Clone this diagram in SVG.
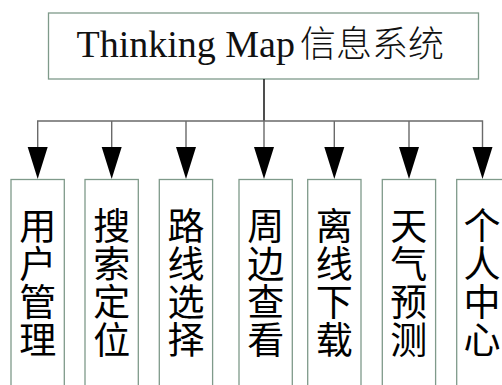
<svg xmlns="http://www.w3.org/2000/svg" width="502" height="385" viewBox="0 0 502 385">
<style>
.box{fill:#fff;stroke:#7f9a8a;stroke-width:1.3}
.ln{fill:none;stroke:#6a6a6a;stroke-width:1.4}
.main{stroke:#222;stroke-width:1.6}
.head{fill:#000}
.v{font-family:"Noto Sans CJK SC","Noto Sans CJK JP",sans-serif;font-size:37px;fill:#000;text-anchor:middle}
.t{font-family:"Liberation Serif",serif;font-size:38px;fill:#111}
.tc{font-family:"Noto Sans CJK SC","Noto Sans CJK JP",sans-serif;font-size:36px;font-weight:300;fill:#111}
</style>
<defs>
<path id="ah" class="head" d="M-10,0 L10,0 L0,32 Z"/>
</defs>
<rect width="502" height="385" fill="#fff"/>
<g id="root">
<rect class="box" x="48.5" y="13" width="430" height="66"/>
<text class="t" x="76.5" y="57">Thinking Map</text>
<text class="tc" x="300" y="57">信息系统</text>
</g>
<g id="connectors">
<path class="ln main" d="M264,79 V121"/>
<path class="ln" d="M37.7,148 V121 H482.5 V148 M111.7,121 V148 M186,121 V148 M264,121 V148 M334.3,121 V148 M409,121 V148"/>
<use href="#ah" x="37.7" y="147"/>
<use href="#ah" x="111.7" y="147"/>
<use href="#ah" x="186" y="147"/>
<use href="#ah" x="264" y="147"/>
<use href="#ah" x="334.3" y="147"/>
<use href="#ah" x="409" y="147"/>
<use href="#ah" x="482.5" y="147"/>
</g>
<g id="n1"><rect class="box" x="11" y="179.5" width="53.3" height="215"/>
<text class="v" x="37.7" y="240">用</text><text class="v" x="37.7" y="278">户</text><text class="v" x="37.7" y="316">管</text><text class="v" x="37.7" y="354">理</text></g>
<g id="n2"><rect class="box" x="85" y="179.5" width="53.3" height="215"/>
<text class="v" x="111.7" y="240">搜</text><text class="v" x="111.7" y="278">索</text><text class="v" x="111.7" y="316">定</text><text class="v" x="111.7" y="354">位</text></g>
<g id="n3"><rect class="box" x="159.3" y="179.5" width="53.3" height="215"/>
<text class="v" x="186" y="240">路</text><text class="v" x="186" y="278">线</text><text class="v" x="186" y="316">选</text><text class="v" x="186" y="354">择</text></g>
<g id="n4"><rect class="box" x="239" y="179.5" width="53.3" height="215"/>
<text class="v" x="265.7" y="240">周</text><text class="v" x="265.7" y="278">边</text><text class="v" x="265.7" y="316">查</text><text class="v" x="265.7" y="354">看</text></g>
<g id="n5"><rect class="box" x="307.7" y="179.5" width="53.3" height="215"/>
<text class="v" x="334.3" y="240">离</text><text class="v" x="334.3" y="278">线</text><text class="v" x="334.3" y="316">下</text><text class="v" x="334.3" y="354">载</text></g>
<g id="n6"><rect class="box" x="382.3" y="179.5" width="53.3" height="215"/>
<text class="v" x="408.7" y="240">天</text><text class="v" x="408.7" y="278">气</text><text class="v" x="408.7" y="316">预</text><text class="v" x="408.7" y="354">测</text></g>
<g id="n7"><rect class="box" x="456.7" y="179.5" width="53.3" height="215"/>
<text class="v" x="482" y="240">个</text><text class="v" x="482" y="278">人</text><text class="v" x="482" y="316">中</text><text class="v" x="482" y="354">心</text></g>
</svg>
